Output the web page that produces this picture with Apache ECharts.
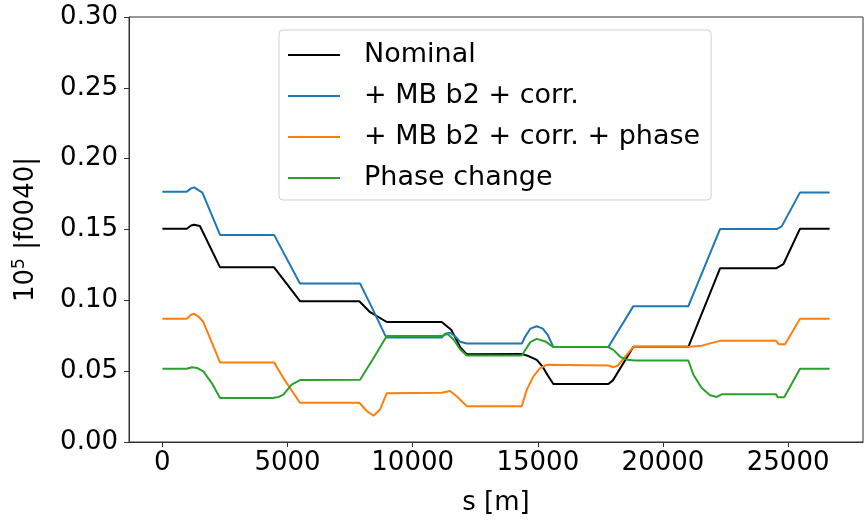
<!DOCTYPE html>
<html>
<head>
<meta charset="utf-8">
<script src="https://cdn.jsdelivr.net/npm/echarts@6.0.0/dist/echarts.min.js"></script>
<style>
  html, body { margin: 0; padding: 0; background: #fff; }
  #chart { width: 868px; height: 521px; }
</style>
</head>
<body>
<div id="chart"></div>
<script>
// s [m] positions and 10^5 |f0040| values
const sNominal = [0, 975, 1150, 1267, 1500, 2305, 4463, 5500, 7870, 8300, 8965, 11162, 11550, 11900, 12161,
  14359, 14650, 14958, 15200, 15400, 15621, 17819, 18000, 18818, 21015, 22281, 24518, 24810, 25477, 26659];
const fNominal = [0.1505, 0.1505, 0.1528, 0.1534, 0.1525, 0.1233, 0.1233, 0.0994, 0.0994, 0.0916, 0.0847, 0.0847, 0.079, 0.067, 0.0619,
  0.0622, 0.0605, 0.058, 0.053, 0.047, 0.0409, 0.0409, 0.0435, 0.0672, 0.0672, 0.1226, 0.1226, 0.1255, 0.1506, 0.1506];

const sCorr = [0, 975, 1150, 1267, 1600, 2305, 4463, 5497, 7900, 8300, 8899, 8965, 11162, 11300, 11494, 11700, 11900, 12161,
  14359, 14500, 14700, 14958, 15200, 15400, 15621, 17819, 18818, 21015, 22281, 24545, 24744, 25477, 26659];
const fCorr = [0.1767, 0.1767, 0.179, 0.1797, 0.176, 0.1462, 0.1462, 0.1119, 0.1119, 0.0975, 0.0754, 0.0737, 0.0737, 0.0765, 0.0772, 0.0745, 0.0707, 0.0695,
  0.0695, 0.0745, 0.080, 0.0817, 0.080, 0.0755, 0.067, 0.067, 0.0959, 0.0959, 0.1503, 0.1503, 0.1522, 0.1762, 0.1762];

const sPhaseCorr = [0, 975, 1150, 1267, 1450, 1638, 2305, 4463, 4834, 5497, 7870, 8166, 8433, 8700, 8965,
  11162, 11494, 11760, 12161, 14359, 14560, 14825, 15090, 15357, 17819, 18019, 18200, 18818,
  21015, 21481, 21881, 22281, 24518, 24625, 24878, 25477, 26659];
const fPhaseCorr = [0.087, 0.087, 0.0898, 0.0905, 0.0885, 0.0847, 0.0562, 0.0562, 0.0451, 0.0277, 0.0277, 0.0219, 0.0185, 0.023, 0.0345,
  0.0347, 0.036, 0.0323, 0.0253, 0.0253, 0.037, 0.0463, 0.0521, 0.0545, 0.054, 0.0528, 0.054, 0.0672,
  0.0672, 0.0677, 0.0696, 0.0714, 0.0714, 0.069, 0.069, 0.087, 0.087];

const sPhase = [0, 975, 1174, 1400, 1638, 1973, 2305, 4400, 4650, 4834, 5165, 5497, 7900, 8433, 8965,
  11162, 11400, 11650, 11893, 12161, 14359, 14500, 14700, 14958, 15300, 15621, 17819, 18019, 18285, 18551, 18885,
  21015, 21215, 21549, 21881, 22148, 22348, 24518, 24585, 24844, 25477, 26659];
const fPhase = [0.0517, 0.0517, 0.0528, 0.0522, 0.0498, 0.0416, 0.0311, 0.0311, 0.0318, 0.0335, 0.0405, 0.0437, 0.044, 0.0591, 0.0749,
  0.0749, 0.0762, 0.072, 0.0655, 0.061, 0.061, 0.065, 0.0705, 0.0728, 0.071, 0.067, 0.067, 0.065, 0.0603, 0.058, 0.0575,
  0.0575, 0.0475, 0.0381, 0.033, 0.0318, 0.0337, 0.0337, 0.0316, 0.0316, 0.0517, 0.0517];

const xTicks = [0, 5000, 10000, 15000, 20000, 25000];
const seriesNames = ["Nominal", "+ MB b2 + corr.", "+ MB b2 + corr. + phase", "Phase change"];
const seriesColors = ["#000000", "#1f77b4", "#ff7f0e", "#2ca02c"];

const zip = (s, f) => s.map((v, i) => [v, f[i]]);
const curves = [zip(sNominal, fNominal), zip(sCorr, fCorr), zip(sPhaseCorr, fPhaseCorr), zip(sPhase, fPhase)];

const font = "DejaVu Sans";
const chart = echarts.init(document.getElementById("chart"), null, { renderer: "canvas" });

const option = {
  animation: false,
  backgroundColor: "#fff",
  textStyle: { fontFamily: font },
  grid: {
    left: 129, right: 5, top: 17, bottom: 74,
    show: true, borderColor: "#333", borderWidth: 1
  },
  legend: {
    orient: "vertical",
    left: 279,
    top: 30,
    padding: [10, 11, 7, 9],
    itemGap: 11,
    itemWidth: 52,
    itemHeight: 2,
    icon: "rect",
    backgroundColor: "#fff",
    borderColor: "#d0d0d0",
    borderWidth: 1,
    borderRadius: 4,
    data: seriesNames,
    textStyle: { fontFamily: font, fontSize: 27, color: "#000", lineHeight: 30, padding: [0, 0, 0, 19] }
  },
  xAxis: {
    type: "value",
    min: -1333,
    max: 27992,
    name: "s [m]",
    nameLocation: "middle",
    nameGap: 48,
    nameTextStyle: { fontFamily: font, fontSize: 26, color: "#000" },
    axisLine: { show: true, onZero: false, lineStyle: { color: "#333", width: 1 } },
    axisTick: { show: true, inside: false, length: 5, lineStyle: { color: "#333" }, customValues: xTicks },
    axisLabel: { fontFamily: font, fontSize: 26, color: "#000", margin: 8, customValues: xTicks, formatter: v => String(v) },
    splitLine: { show: false }
  },
  yAxis: {
    type: "value",
    min: 0,
    max: 0.3,
    interval: 0.05,
    name: "10{sup|5} |f0040|",
    nameLocation: "middle",
    nameGap: 88,
    nameRotate: 90,
    nameTextStyle: {
      fontFamily: font, fontSize: 26, color: "#000", lineHeight: 30,
      rich: { sup: { fontFamily: font, fontSize: 17, color: "#000", verticalAlign: "top", lineHeight: 30 } }
    },
    axisLine: { show: true, onZero: false, lineStyle: { color: "#333", width: 1 } },
    axisTick: { show: true, inside: false, length: 5, lineStyle: { color: "#333" } },
    axisLabel: { fontFamily: font, fontSize: 26, color: "#000", margin: 11, formatter: v => v.toFixed(2) },
    splitLine: { show: false }
  },
  series: curves.map((d, i) => ({
    name: seriesNames[i],
    type: "line",
    data: d,
    symbol: "none",
    color: seriesColors[i],
    lineStyle: { color: seriesColors[i], width: 2 },
    z: 2 + i
  }))
};

chart.setOption(option);
</script>
</body>
</html>
